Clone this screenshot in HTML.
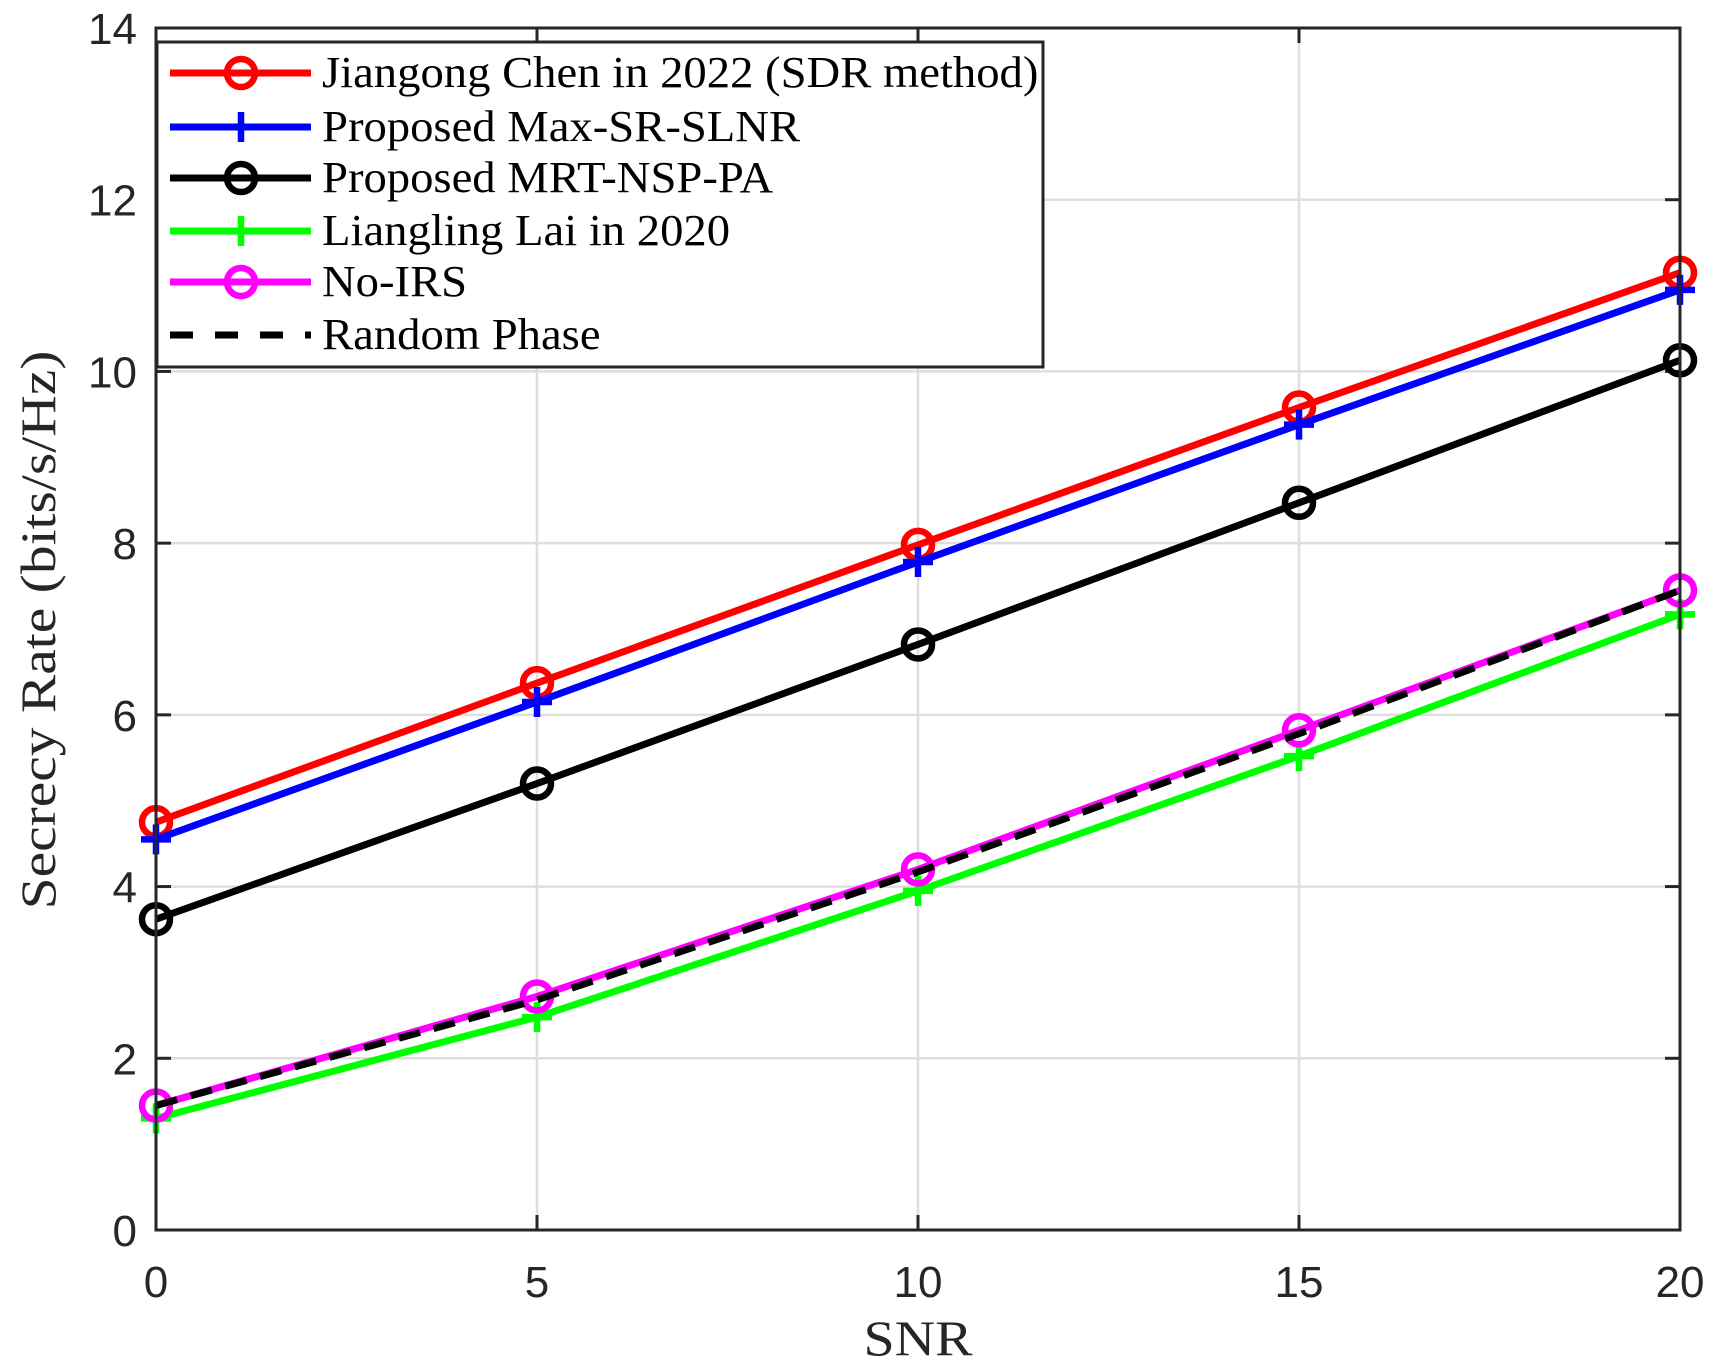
<!DOCTYPE html>
<html><head><meta charset="utf-8"><style>
html,body{margin:0;padding:0;background:#fff;}
svg{display:block;}
.tick{font-family:"Liberation Sans",sans-serif;font-size:44px;fill:#262626;}
.ser{font-family:"Liberation Serif",serif;}
</style></head><body>
<svg id="chart" width="1713" height="1370" xmlns="http://www.w3.org/2000/svg"></svg>
<script>
const xCategories=[0,5,10,15,20];
const yTicks=[0,2,4,6,8,10,12,14];
const seriesNames=["Jiangong Chen in 2022 (SDR method)","Proposed Max-SR-SLNR","Proposed MRT-NSP-PA","Liangling Lai in 2020","No-IRS","Random Phase"];
const redVals=[4.75,6.37,7.98,9.58,11.15];
const blueVals=[4.55,6.15,7.78,9.38,10.95];
const blackVals=[3.62,5.20,6.82,8.47,10.13];
const greenVals=[1.30,2.48,3.95,5.52,7.17];
const magentaVals=[1.45,2.72,4.20,5.82,7.45];
const randomVals=[1.45,2.68,4.17,5.78,7.45];

const NS="http://www.w3.org/2000/svg";
const svg=document.getElementById('chart');
const L=156,R=1680,T=28,B=1230;
const xs=v=>L+(v-0)/(20-0)*(R-L);
const ys=v=>B-(v-0)/(14-0)*(B-T);
function mk(tag,attrs,parent){const e=document.createElementNS(NS,tag);for(const k in attrs)e.setAttribute(k,attrs[k]);(parent||svg).appendChild(e);return e;}
function stretch(t,f){const w=t.getComputedTextLength();t.setAttribute('textLength',w*f);t.setAttribute('lengthAdjust','spacingAndGlyphs');}

xCategories.forEach(v=>{const g=mk('line',{x1:xs(v),x2:xs(v),y1:T,y2:B,stroke:'#dedede','stroke-width':2.5});

});
yTicks.forEach(v=>{const g=mk('line',{x1:L,x2:R,y1:ys(v),y2:ys(v),stroke:'#dedede','stroke-width':2.5});

});
xCategories.forEach(v=>{
 mk('line',{x1:xs(v),x2:xs(v),y1:B,y2:B-15,stroke:'#262626','stroke-width':3});
 mk('line',{x1:xs(v),x2:xs(v),y1:T,y2:T+15,stroke:'#262626','stroke-width':3});
 const t=mk('text',{x:xs(v),y:1297,'text-anchor':'middle',class:'tick'});t.textContent=v;
 
 
});
yTicks.forEach(v=>{
 mk('line',{x1:L,x2:L+15,y1:ys(v),y2:ys(v),stroke:'#262626','stroke-width':3});
 mk('line',{x1:R,x2:R-15,y1:ys(v),y2:ys(v),stroke:'#262626','stroke-width':3});
 const t=mk('text',{x:137,y:ys(v)+16,'text-anchor':'end',class:'tick'});t.textContent=v;
 
 
});

function circle(x,y,c,p){mk('circle',{cx:x,cy:y,r:14,fill:'none',stroke:c,'stroke-width':6.5},p);}
function plus(x,y,c,p){mk('path',{d:`M${x-15},${y}H${x+15}M${x},${y-15}V${y+15}`,stroke:c,'stroke-width':6.5,fill:'none'},p);}
const series=[
 {vals:redVals,c:'#ff0000',m:circle,dash:null,name:'series-jiangong-chen'},
 {vals:blueVals,c:'#0000ff',m:plus,dash:null,name:'series-max-sr-slnr'},
 {vals:blackVals,c:'#000000',m:circle,dash:null,name:'series-mrt-nsp-pa'},
 {vals:greenVals,c:'#00ff00',m:plus,dash:null,name:'series-liangling-lai'},
 {vals:magentaVals,c:'#ff00ff',m:circle,dash:null,name:'series-no-irs'},
 {vals:randomVals,c:'#000000',m:null,dash:'22,14',name:'series-random-phase'}
];
series.forEach(s=>{
 const g=mk('g',{});
 
 
 const pts=s.vals.map((v,i)=>xs(xCategories[i])+','+ys(v)).join(' ');
 const pl=mk('polyline',{points:pts,fill:'none',stroke:s.c,'stroke-width':7,'stroke-linejoin':'round'},g);
 if(s.dash)pl.setAttribute('stroke-dasharray',s.dash);
 if(s.m)s.vals.forEach((v,i)=>s.m(xs(xCategories[i]),ys(v),s.c,g));
});
const box=mk('rect',{x:L,y:T,width:R-L,height:B-T,fill:'none',stroke:'#262626','stroke-width':3});



const lg=mk('g',{});


mk('rect',{x:157,y:42,width:886,height:325,fill:'#fff',stroke:'#262626','stroke-width':3},lg);
const rowY=[73,127,178,231,282,335];
series.forEach((s,i)=>{
 const e=mk('g',{},lg);
 
 
 const y=rowY[i];
 const ln=mk('line',{x1:170,x2:311,y1:y,y2:y,stroke:s.c,'stroke-width':7},e);
 if(s.dash)ln.setAttribute('stroke-dasharray','23,22');
 if(s.m)s.m(241,y,s.c,e);
 const t=mk('text',{x:322,y:y+14,class:'ser','font-size':'44px',fill:'#000'},e);
 t.textContent=seriesNames[i];
 stretch(t,1.06);
});

const xt=mk('text',{x:918,y:1355,'text-anchor':'middle',class:'ser','font-size':'50px',fill:'#262626'});
xt.textContent='SNR';
stretch(xt,1.12);


const yt=mk('text',{x:0,y:0,'text-anchor':'middle',class:'ser','font-size':'50px',fill:'#262626',transform:'translate(55,630) rotate(-90)'});
yt.textContent='Secrecy Rate (bits/s/Hz)';
stretch(yt,1.15);


</script>
</body></html>
